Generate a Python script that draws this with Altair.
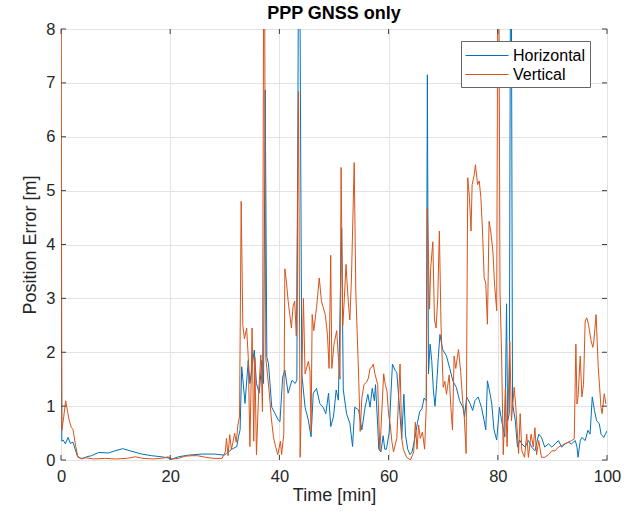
import altair as alt
import pandas as pd

# ---------------- data ----------------
series_names = ["Horizontal", "Vertical"]
series_colors = ["#0072BD", "#D95319"]

h_time = [0.0, 0.05, 0.15, 0.4, 0.8, 1.3, 1.7, 2.2, 2.6, 3.0, 3.8, 4.7, 5.6, 6.9, 8.7, 9.9,
          11.3, 13.0, 14.8, 16.6, 18.4, 19.6, 20.2, 21.5, 23.3, 25.7, 28.1, 29.9, 30.3, 31.3,
          32.2, 32.5, 32.8, 33.1, 33.7, 34.3, 34.6, 35.4, 35.8, 36.3, 36.8, 37.1, 37.4, 37.7,
          38.0, 38.6, 39.2, 39.8, 40.1, 40.6, 41.0, 41.6, 42.3, 42.9, 43.2, 43.6, 44.1, 44.7,
          45.3, 45.8, 46.2, 46.8, 47.4, 48.0, 48.5, 49.0, 49.4, 49.9, 50.4, 50.8, 51.4, 51.7,
          52.3, 52.9, 53.4, 53.8, 54.5, 55.1, 55.7, 56.2, 56.6, 57.0, 57.4, 57.6, 58.0, 58.2,
          58.6, 59.0, 59.3, 59.6, 60.1, 60.4, 60.7, 61.2, 61.5, 61.9, 62.4, 62.8, 63.1, 63.5,
          63.9, 64.3, 64.8, 65.3, 65.7, 66.1, 66.5, 66.9, 67.1, 67.3, 67.6, 67.9, 68.2, 68.5,
          68.8, 69.1, 69.4, 69.9, 70.6, 71.2, 71.8, 72.4, 73.0, 73.6, 73.9, 74.3, 74.9, 75.4,
          75.8, 76.4, 77.0, 77.5, 77.8, 78.1, 78.6, 78.9, 79.3, 79.8, 80.3, 80.7, 81.3, 81.6,
          81.8, 82.1, 82.4, 82.7, 83.2, 83.6, 84.0, 84.4, 85.0, 85.6, 86.2, 86.8, 87.5, 88.0,
          88.6, 89.3, 89.9, 90.5, 91.1, 91.7, 92.3, 92.9, 93.5, 94.2, 94.5, 94.7, 95.1, 95.4,
          96.0, 96.5, 96.9, 97.3, 97.7, 98.1, 98.6, 98.9, 99.4, 99.7, 100.0]
h_err = [4.6, 3.85, 0.35, 0.37, 0.3, 0.42, 0.31, 0.33, 0.2, 0.07, 0.02, 0.06, 0.08, 0.14, 0.13, 0.17,
         0.21, 0.16, 0.11, 0.08, 0.06, 0.04, 0.01, 0.06, 0.09, 0.11, 0.11, 0.09, 0.12, 0.2,
         0.25, 0.43, 0.56, 1.73, 1.05, 1.85, 1.42, 2.04, 1.42, 1.24, 1.85, 1.42, 6.87, 1.91,
         1.79, 0.98, 0.86, 0.74, 0.71, 1.54, 1.67, 1.24, 1.48, 1.42, 1.48, 12.0, 1.6, 0.98,
         0.74, 0.43, 1.24, 1.33, 1.05, 0.98, 0.86, 1.24, 0.62, 0.8, 1.3, 1.11, 4.3, 1.3,
         0.86, 0.68, 0.25, 0.98, 0.93, 0.56, 0.98, 1.22, 0.98, 1.33, 1.1, 1.4, 0.65, 0.2,
         0.15, 0.45, 0.2, 0.2, 0.5, 1.17, 1.78, 1.66, 1.63, 1.1, 0.4, 1.22, 0.46, 0.2,
         0.1, 0.15, 0.4, 0.7, 0.9, 0.95, 1.15, 1.1, 7.15, 1.6, 2.15, 1.85, 1.3, 1.0,
         1.4, 1.9, 2.33, 2.05, 1.93, 1.7, 1.46, 1.35, 1.1, 0.98, 0.8, 1.17, 1.05, 0.92,
         1.1, 1.17, 0.98, 0.73, 0.56, 1.47, 1.22, 1.04, 0.56, 0.37, 0.98, 0.73, 0.43, 2.9,
         0.73, 0.86, 12.0, 1.05, 0.73, 0.24, 0.37, 0.3, 0.24, 0.36, 0.24, 0.17, 0.48, 0.42,
         0.24, 0.3, 0.24, 0.3, 0.36, 0.24, 0.3, 0.33, 0.3, 0.36, 0.24, 0.05, 0.36, 0.42,
         0.36, 0.55, 0.48, 1.17, 0.92, 0.73, 0.67, 0.48, 0.42, 0.48, 0.54]

v_time = [0.0, 0.15, 0.5, 0.85, 1.2, 1.5, 1.9, 2.2, 2.7, 3.1, 3.6, 4.5, 6.0, 8.0, 10.0, 12.0,
          13.6, 15.0, 17.0, 19.0, 19.6, 20.3, 21.5, 22.7, 24.0, 25.0, 26.5, 28.0, 29.5, 30.1,
          30.3, 30.6, 30.9, 31.2, 31.5, 31.8, 32.1, 32.4, 32.7, 33.0, 33.3, 33.6, 34.0, 34.3,
          34.6, 35.0, 35.3, 35.5, 35.8, 36.2, 36.6, 36.9, 37.2, 37.5, 37.8, 38.1, 38.5, 38.9,
          39.3, 39.7, 40.2, 40.4, 40.8, 41.0, 41.3, 41.6, 41.9, 42.2, 42.5, 42.8, 43.1, 43.5,
          43.8, 44.4, 44.7, 45.3, 45.6, 45.8, 46.0, 46.3, 46.8, 47.3, 47.7, 48.4, 48.8, 49.1,
          49.4, 49.6, 50.0, 50.5, 50.8, 51.1, 51.3, 51.6, 51.9, 52.2, 52.6, 52.9, 53.2, 53.7,
          54.0, 54.5, 54.8, 55.1, 55.5, 56.0, 56.3, 56.6, 56.9, 57.2, 57.5, 58.0, 58.4, 59.1,
          59.4, 59.7, 60.0, 60.3, 60.6, 60.9, 61.5, 62.1, 62.4, 62.7, 63.3, 64.0, 64.6, 64.9,
          65.2, 65.5, 65.8, 66.2, 66.6, 66.9, 67.1, 67.4, 67.5, 67.7, 68.1, 68.4, 68.7, 69.0,
          69.3, 69.6, 70.0, 70.3, 70.6, 71.1, 71.4, 71.7, 72.0, 72.3, 72.8, 73.2, 73.6, 73.8,
          74.2, 74.5, 74.8, 75.1, 75.3, 75.7, 75.9, 76.3, 76.6, 76.9, 77.2, 77.5, 77.8, 78.1,
          78.4, 78.7, 79.1, 79.4, 79.8, 80.1, 80.4, 80.7, 81.0, 81.4, 81.7, 82.2, 82.5, 83.0,
          83.3, 83.8, 84.1, 84.4, 84.9, 85.3, 85.6, 86.1, 86.5, 86.8, 87.1, 87.5, 88.0, 88.6,
          89.3, 89.9, 90.5, 91.1, 91.7, 92.3, 92.9, 93.5, 94.0, 94.3, 94.5, 94.7, 95.1, 95.4,
          95.7, 96.0, 96.3, 96.6, 97.1, 97.4, 97.6, 98.0, 98.4, 98.9, 99.1, 99.5, 99.8]
v_err = [12.0, 0.55, 0.8, 1.1, 0.9, 0.74, 0.6, 0.57, 0.25, 0.05, 0.03, 0.04, 0.02, 0.03, 0.02, 0.03,
         0.06, 0.03, 0.02, 0.04, 0.06, 0.02, 0.03, 0.07, 0.08, 0.08, 0.05, 0.03, 0.03, 0.15,
         0.4, 0.08, 0.47, 0.2, 0.33, 0.5, 0.33, 0.65, 0.8, 4.8, 2.5, 2.25, 2.45, 1.9,
         0.25, 2.45, 0.35, 1.9, 0.1, 1.25, 1.95, 0.9, 12.0, 1.9, 1.6, 1.3, 0.8, 0.43,
         0.25, 0.1, 0.35, 0.1, 0.47, 3.55, 3.3, 2.95, 2.7, 2.45, 2.85, 2.95, 2.3, 6.84,
         0.05, 3.0, 1.6, 1.83, 1.65, 0.53, 2.7, 2.4, 2.83, 3.38, 2.95, 2.7, 2.33, 1.7,
         3.8, 1.7, 2.15, 2.4, 1.9, 1.5, 5.43, 2.5, 3.0, 3.63, 2.95, 2.6, 3.38, 5.52,
         3.1, 1.6, 0.53, 1.15, 1.4, 1.45, 1.52, 1.7, 1.72, 1.78, 1.6, 1.4, 0.17, 1.6,
         1.4, 1.28, 0.85, 0.65, 0.34, 0.15, 0.4, 1.78, 0.4, 0.2, 0.05, 0.0, 0.15, 0.7,
         0.2, 0.65, 0.4, 0.52, 0.2, 1.0, 4.68, 3.25, 2.8, 3.55, 4.05, 2.6, 2.45, 3.0,
         4.25, 2.5, 1.35, 1.46, 1.22, 1.58, 0.98, 0.56, 1.93, 1.7, 2.05, 1.64, 1.05, 0.92,
         0.12, 5.24, 4.87, 4.25, 5.11, 5.3, 5.48, 5.11, 5.18, 4.87, 4.25, 3.39, 3.27, 2.52,
         4.43, 4.25, 3.88, 3.27, 2.77, 12.0, 3.15, 1.93, 0.1, 1.35, 0.25, 2.2, 0.73, 1.35,
         0.98, 0.12, 0.86, 0.17, 0.05, 0.48, 0.05, 0.48, 0.24, 0.6, 0.1, 0.36, 0.05, 0.05,
         0.1, 0.17, 0.17, 0.24, 0.27, 0.3, 0.33, 0.36, 0.39, 2.15, 1.04, 1.17, 1.93, 1.17,
         1.4, 2.58, 2.64, 2.52, 2.21, 2.09, 2.21, 2.7, 1.72, 0.98, 0.86, 1.23, 1.04]

x_ticks = [0, 20, 40, 60, 80, 100]
y_ticks = [0, 1, 2, 3, 4, 5, 6, 7, 8]

# ---------------- tables ----------------
df_h = pd.DataFrame({"time": h_time, "err": h_err, "series": series_names[0]})
df_v = pd.DataFrame({"time": v_time, "err": v_err, "series": series_names[1]})
df = pd.concat([df_h, df_v], ignore_index=True)
df["idx"] = range(len(df))

FONT = "Liberation Sans"
TXT = "#262626"
W, H = 546, 431
X_TITLE = "Time [min]"
Y_TITLE = "Position Error [m]"

x_scale = alt.Scale(domain=[0, 100], nice=False, zero=False)
y_scale = alt.Scale(domain=[0, 8], nice=False, zero=False)

axis_style = dict(grid=True, ticks=False, tickSize=0, domain=False, format="d",
                  labelFlush=False, labelOverlap=False,
                  labelFont=FONT, labelFontSize=16.5, labelColor=TXT,
                  titleFont=FONT, titleFontSize=18, titleColor=TXT, titleFontWeight="normal",
                  gridColor="#e3e3e3", gridWidth=1, gridOpacity=1)
x_axis = alt.Axis(values=x_ticks, title=X_TITLE, labelPadding=8, titlePadding=2, **axis_style)
y_axis = alt.Axis(values=y_ticks, title=Y_TITLE, labelPadding=6, titlePadding=6, **axis_style)

lines = alt.Chart(df).mark_line(strokeWidth=1, clip=True).encode(
    x=alt.X("time:Q", scale=x_scale, axis=x_axis),
    y=alt.Y("err:Q", scale=y_scale, axis=y_axis),
    color=alt.Color("series:N",
                    scale=alt.Scale(domain=series_names, range=series_colors),
                    legend=alt.Legend(title=None, orient="none", legendX=400, legendY=12,
                                      symbolType="M-1,0H3.3", symbolSize=400,
                                      symbolStrokeWidth=1,
                                      labelFontSize=16, labelFont=FONT, labelColor="#000000",
                                      fillColor="white", strokeColor="#666666", padding=4,
                                      labelOffset=27, rowPadding=0)),
    order="idx:Q",
)

xt = pd.DataFrame({"t": x_ticks})
yt = pd.DataFrame({"v": y_ticks})
tick_col = "#404040"
xb = alt.Chart(xt).mark_rule(color=tick_col, strokeWidth=1).encode(
    x=alt.X("t:Q", scale=x_scale, title=X_TITLE, axis=x_axis), y=alt.value(H), y2=alt.value(H - 5))
xtop = alt.Chart(xt).mark_rule(color=tick_col, strokeWidth=1).encode(
    x=alt.X("t:Q", scale=x_scale, title=X_TITLE, axis=x_axis), y=alt.value(0), y2=alt.value(5))
yl = alt.Chart(yt).mark_rule(color=tick_col, strokeWidth=1).encode(
    y=alt.Y("v:Q", scale=y_scale, title=Y_TITLE, axis=y_axis), x=alt.value(0), x2=alt.value(5))
yr = alt.Chart(yt).mark_rule(color=tick_col, strokeWidth=1).encode(
    y=alt.Y("v:Q", scale=y_scale, title=Y_TITLE, axis=y_axis), x=alt.value(W), x2=alt.value(W - 5))

chart = alt.layer(lines, xb, xtop, yl, yr).properties(
    width=W, height=H, background="white",
    title=alt.TitleParams("PPP GNSS only", fontSize=18, fontWeight="bold", font=FONT,
                          color="#000000", anchor="middle", frame="group", offset=-2),
    autosize=alt.AutoSizeParams(type="none"),
    padding={"left": 61, "top": 29, "right": 21, "bottom": 55},
).configure_view(
    stroke="#404040", strokeWidth=1
)

chart.save("out.html", embed_options={"renderer": "svg", "actions": False})
